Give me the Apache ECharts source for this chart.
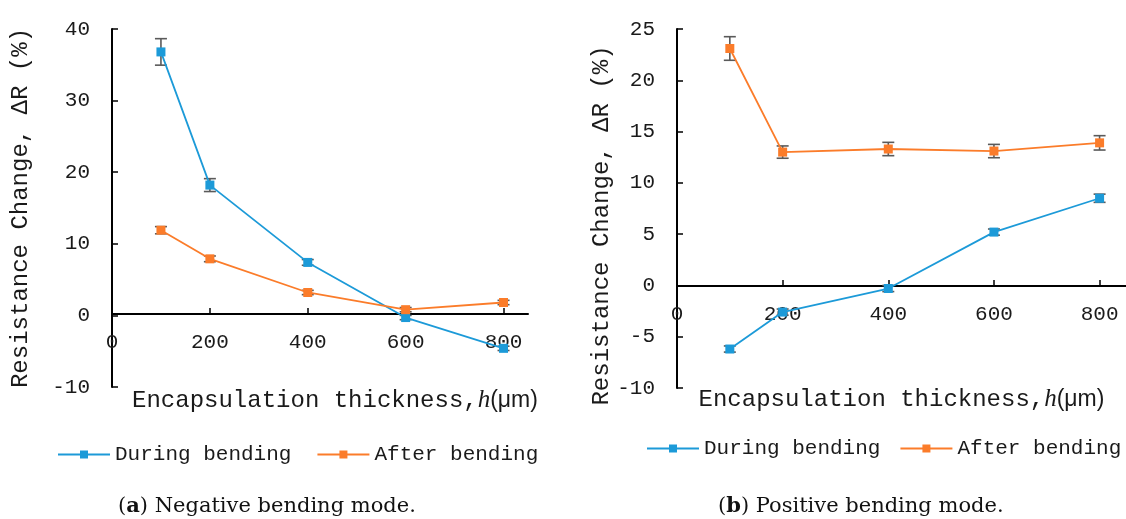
<!DOCTYPE html>
<html>
<head>
<meta charset="utf-8">
<script src="https://cdn.jsdelivr.net/npm/echarts@6/dist/echarts.min.js"></script>
<style>
  html, body { margin: 0; padding: 0; background: #fff; }
  #chart { width: 1126px; height: 519px; }
</style>
</head>
<body>
<div id="chart"></div>
<script>
// thickness h (µm)
const thickness = [100, 200, 400, 600, 800]

// (a) negative bending mode
const negDuring = [36.8, 18.2, 7.4, -0.3, -4.6]
const negDuringErr = [1.85, 0.9, 0.4, 0.3, 0.3]
const negAfter = [11.9, 7.9, 3.2, 0.8, 1.8]
const negAfterErr = [0.5, 0.4, 0.3, 0.3, 0.3]

// (b) positive bending mode
const posDuring = [-6.2, -2.6, -0.3, 5.2, 8.5]
const posDuringErr = [0.3, 0.3, 0.3, 0.3, 0.4]
const posAfter = [23.1, 13.0, 13.3, 13.1, 13.9]
const posAfterErr = [1.15, 0.6, 0.65, 0.65, 0.7]

const xTicks = [0, 200, 400, 600, 800]
const seriesNames = ['During bending', 'After bending']

const BLUE = '#1c9ad8'
const ORANGE = '#fb7c2a'
const MONO = 'Liberation Mono'
const INK = '#1a1a1a'

const pairs = (ys) => thickness.map((x, i) => [x, ys[i]])
const errPairs = (ys, es) => thickness.map((x, i) => [x, ys[i], es[i]])

function errorBars (params, api) {
  const x = api.value(0)
  const y = api.value(1)
  const e = api.value(2)
  const top = api.coord([x, y + e])
  const bot = api.coord([x, y - e])
  const w = 6
  const style = { stroke: '#5a5a5a', lineWidth: 1.6 }
  return {
    type: 'group',
    children: [
      { type: 'line', shape: { x1: top[0], y1: top[1], x2: bot[0], y2: bot[1] }, style },
      { type: 'line', shape: { x1: top[0] - w, y1: top[1], x2: top[0] + w, y2: top[1] }, style },
      { type: 'line', shape: { x1: bot[0] - w, y1: bot[1], x2: bot[0] + w, y2: bot[1] }, style },
    ],
  }
}

// the x axis sits on y = 0, so it is lifted from the grid bottom with a negative offset
function xAxisFor (gridIndex, offset, nameGap, namePad) {
  return {
    type: 'value',
    gridIndex,
    min: 0,
    max: 850,
    interval: 200,
    position: 'bottom',
    offset,
    name: '{a|Encapsulation thickness,}{h|h}{u|(μm)}',
    nameLocation: 'middle',
    nameGap,
    nameTextStyle: {
      padding: namePad,
      rich: {
        a: { fontFamily: MONO, fontSize: 24, color: INK },
        h: { fontFamily: 'Liberation Serif', fontStyle: 'italic', fontSize: 25, color: INK },
        u: { fontFamily: 'Liberation Sans', fontSize: 23, color: INK },
      },
    },
    axisLine: { onZero: false, lineStyle: { color: '#000', width: 2 } },
    axisTick: { inside: true, length: 6, customValues: xTicks, lineStyle: { color: '#000', width: 1.5 } },
    axisLabel: { customValues: xTicks, margin: 18, fontFamily: MONO, fontSize: 21, color: INK },
    splitLine: { show: false },
  }
}

function yAxisFor (gridIndex, min, max, interval, nameGap, namePad) {
  return {
    type: 'value',
    gridIndex,
    min,
    max,
    interval,
    name: 'Resistance Change, ΔR (%)',
    nameLocation: 'middle',
    nameGap,
    nameTextStyle: { fontFamily: MONO, fontSize: 24, color: INK, padding: namePad },
    axisLine: { show: true, onZero: false, lineStyle: { color: '#000', width: 2 } },
    axisTick: { show: true, inside: true, length: 6, lineStyle: { color: '#000', width: 1.5 } },
    axisLabel: { margin: 22, fontFamily: MONO, fontSize: 21, color: INK },
    splitLine: { show: false },
  }
}

function lineSeries (name, color, ys, idx) {
  return {
    name,
    type: 'line',
    xAxisIndex: idx,
    yAxisIndex: idx,
    data: pairs(ys),
    symbol: 'rect',
    symbolSize: 9,
    lineStyle: { color, width: 1.8 },
    itemStyle: { color },
    z: 3,
  }
}

function errSeries (ys, es, idx) {
  return {
    type: 'custom',
    xAxisIndex: idx,
    yAxisIndex: idx,
    renderItem: errorBars,
    encode: { x: 0, y: 1 },
    data: errPairs(ys, es),
    silent: true,
    z: 2,
  }
}

const legendStyle = {
  padding: 0,
  width: 540,
  itemWidth: 52,
  itemHeight: 10,
  textStyle: { fontFamily: MONO, fontSize: 21, color: INK },
  data: seriesNames,
}

const captionRich = {
  n: { fontFamily: 'DejaVu Serif', fontSize: 21, fill: '#111' },
  b: { fontFamily: 'DejaVu Serif', fontSize: 21, fontWeight: 'bold', fill: '#111' },
}

const chart = echarts.init(document.getElementById('chart'))
chart.setOption({
  animation: false,
  backgroundColor: '#fff',
  grid: [
    { left: 112, top: 29, width: 416, height: 358 },
    { left: 677, top: 29, right: 0, height: 359 },
  ],
  xAxis: [xAxisFor(0, -73, 74, [0, 0, 0, 30]), xAxisFor(1, -102, 101, [0, 0, 0, 0])],
  yAxis: [
    yAxisFor(0, -10, 40, 10, 79, [0, 0, 0, 0]),
    yAxisFor(1, -10, 25, 5, 63, [0, 34, 0, 0]),
  ],
  legend: [
    Object.assign({ left: 57, top: 444, itemGap: 25 }, legendStyle),
    Object.assign({ left: 646, top: 438, itemGap: 19 }, legendStyle),
  ],
  graphic: [
    {
      type: 'text',
      left: 118,
      top: 496,
      style: { text: '{n|(}{b|a}{n|) Negative bending mode.}', rich: captionRich },
    },
    {
      type: 'text',
      left: 718,
      top: 496,
      style: { text: '{n|(}{b|b}{n|) Positive bending mode.}', rich: captionRich },
    },
  ],
  series: [
    errSeries(negDuring, negDuringErr, 0),
    errSeries(negAfter, negAfterErr, 0),
    lineSeries(seriesNames[0], BLUE, negDuring, 0),
    lineSeries(seriesNames[1], ORANGE, negAfter, 0),
    errSeries(posDuring, posDuringErr, 1),
    errSeries(posAfter, posAfterErr, 1),
    lineSeries(seriesNames[0], BLUE, posDuring, 1),
    lineSeries(seriesNames[1], ORANGE, posAfter, 1),
  ],
})
</script>
</body>
</html>
